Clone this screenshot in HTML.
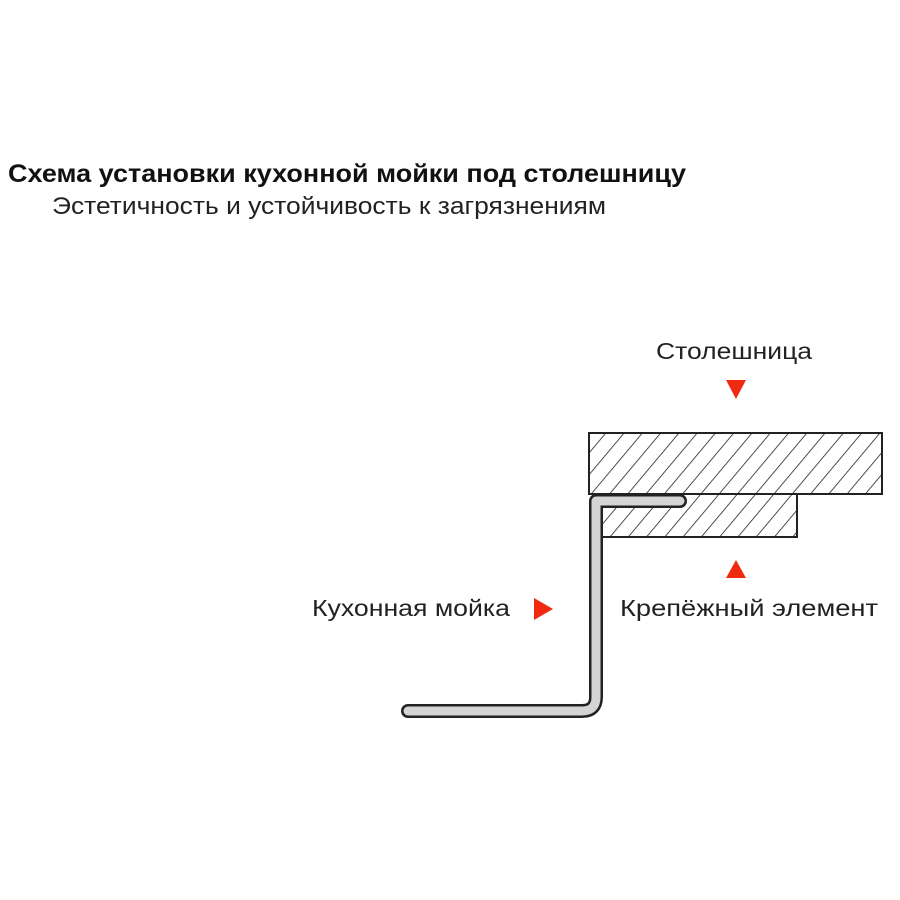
<!DOCTYPE html>
<html><head><meta charset="utf-8"><style>html,body{margin:0;padding:0;background:#fff}svg{display:block}</style></head>
<body>
<svg width="900" height="900" viewBox="0 0 900 900" xmlns="http://www.w3.org/2000/svg">
<defs>
<pattern id="h" patternUnits="userSpaceOnUse" width="14" height="20" patternTransform="rotate(40)">
<line x1="0" y1="0" x2="0" y2="20" stroke="#222" stroke-width="1.6"/>
</pattern>
</defs>
<rect width="900" height="900" fill="#fff"/>
<text x="8" y="182" font-family="Liberation Sans, sans-serif" font-weight="bold" font-size="25" fill="#111" textLength="678" lengthAdjust="spacingAndGlyphs">Схема установки кухонной мойки под столешницу</text>
<text x="52" y="214" font-family="Liberation Sans, sans-serif" font-size="24" fill="#222" textLength="554" lengthAdjust="spacingAndGlyphs">Эстетичность и устойчивость к загрязнениям</text>
<text x="656" y="359" font-family="Liberation Sans, sans-serif" font-size="23" fill="#222" textLength="156" lengthAdjust="spacingAndGlyphs">Столешница</text>
<polygon points="726,380 746,380 736,399" fill="#f02a10"/>
<rect x="589" y="433" width="293" height="61" fill="url(#h)" stroke="#222" stroke-width="2"/>
<rect x="602" y="494" width="195" height="43" fill="url(#h)" stroke="#222" stroke-width="2"/>
<path d="M408,711 L582,711 Q596,711 596,697 L596,501 L680,501" fill="none" stroke="#222" stroke-width="14" stroke-linecap="round" stroke-linejoin="round"/>
<path d="M408,711 L582,711 Q596,711 596,697 L596,501 L680,501" fill="none" stroke="#d4d4d4" stroke-width="9" stroke-linecap="round" stroke-linejoin="round"/>
<text x="312" y="616" font-family="Liberation Sans, sans-serif" font-size="23" fill="#222" textLength="198" lengthAdjust="spacingAndGlyphs">Кухонная мойка</text>
<polygon points="534,598 553,609 534,620" fill="#f02a10"/>
<polygon points="726,578 746,578 736,560" fill="#f02a10"/>
<text x="620" y="616" font-family="Liberation Sans, sans-serif" font-size="23" fill="#222" textLength="258" lengthAdjust="spacingAndGlyphs">Крепёжный элемент</text>
</svg>
</body></html>
